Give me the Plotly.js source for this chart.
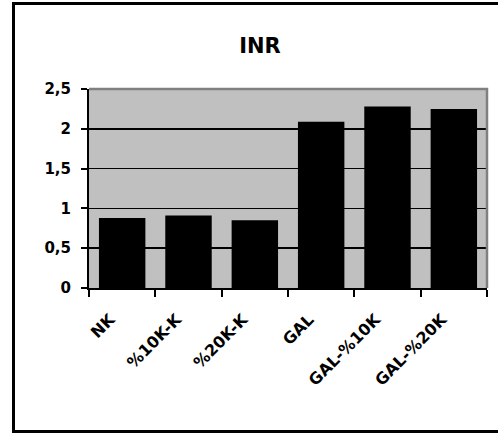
<!DOCTYPE html>
<html>
<head>
<meta charset="utf-8">
<script src="https://cdn.plot.ly/plotly-3.0.1.min.js"></script>
<style>
  html, body { margin: 0; padding: 0; background: #fff; overflow: hidden; }
  #wrap { position: relative; width: 498px; height: 434px; }
  #chart { position: absolute; left: 0; top: 0; width: 498px; height: 434px; }
  #frame {
    position: absolute; left: 12px; top: 2px; width: 520px; height: 431px;
    box-sizing: border-box; border: 3px solid #000; pointer-events: none;
  }
</style>
</head>
<body>
<div id="wrap">
  <div id="chart"></div>
  <div id="frame"></div>
</div>
<script>
// INR per group
const groups = ['NK', '%10K-K', '%20K-K', 'GAL', 'GAL-%10K', 'GAL-%20K'];
const inrValues = [0.88, 0.91, 0.85, 2.09, 2.28, 2.25];
const yTicks = [0, 0.5, 1, 1.5, 2, 2.5];

const fontFamily = 'DejaVu Sans, Arial, sans-serif';

const trace = {
  type: 'bar',
  x: groups,
  y: inrValues,
  marker: { color: '#000000', line: { width: 0 } },
  hoverinfo: 'x+y'
};

const layout = {
  width: 498,
  height: 434,
  separators: ',.',
  paper_bgcolor: '#ffffff',
  plot_bgcolor: '#c0c0c0',
  margin: { l: 89, r: 11, t: 89, b: 146, pad: 0 },
  showlegend: false,
  bargap: 0.3,
  title: {
    text: 'INR',
    font: { family: fontFamily, size: 21, weight: 700, color: '#000' },
    xref: 'container', yref: 'container',
    x: 0.522, xanchor: 'center',
    y: 0.894, yanchor: 'middle'
  },
  xaxis: {
    type: 'category',
    showline: true, linecolor: '#000', linewidth: 2,
    ticks: 'outside', tickson: 'boundaries', ticklen: 7, tickwidth: 2, tickcolor: '#000',
    tickangle: -45,
    ticklabelstandoff: 14,
    ticklabelshift: -12,
    tickfont: { family: fontFamily, size: 16, weight: 700, color: '#000' },
    showgrid: false, zeroline: false, fixedrange: true
  },
  yaxis: {
    range: [0, 2.5],
    tickvals: yTicks,
    showline: true, linecolor: '#000', linewidth: 2,
    ticks: 'outside', ticklen: 6, tickwidth: 2, tickcolor: '#000',
    ticklabelstandoff: 7,
    tickfont: { family: fontFamily, size: 15, weight: 700, color: '#000' },
    showgrid: true, gridcolor: '#000', gridwidth: 1.5,
    zeroline: false, fixedrange: true
  },
  shapes: [
    {
      // grey top and right edges of the plot area
      type: 'path', xref: 'paper', yref: 'paper',
      path: 'M0,1 L1,1 L1,0',
      line: { color: '#808080', width: 2.5 },
      layer: 'above'
    }
  ]
};

Plotly.newPlot('chart', [trace], layout, { displayModeBar: false, staticPlot: true });
</script>
</body>
</html>
